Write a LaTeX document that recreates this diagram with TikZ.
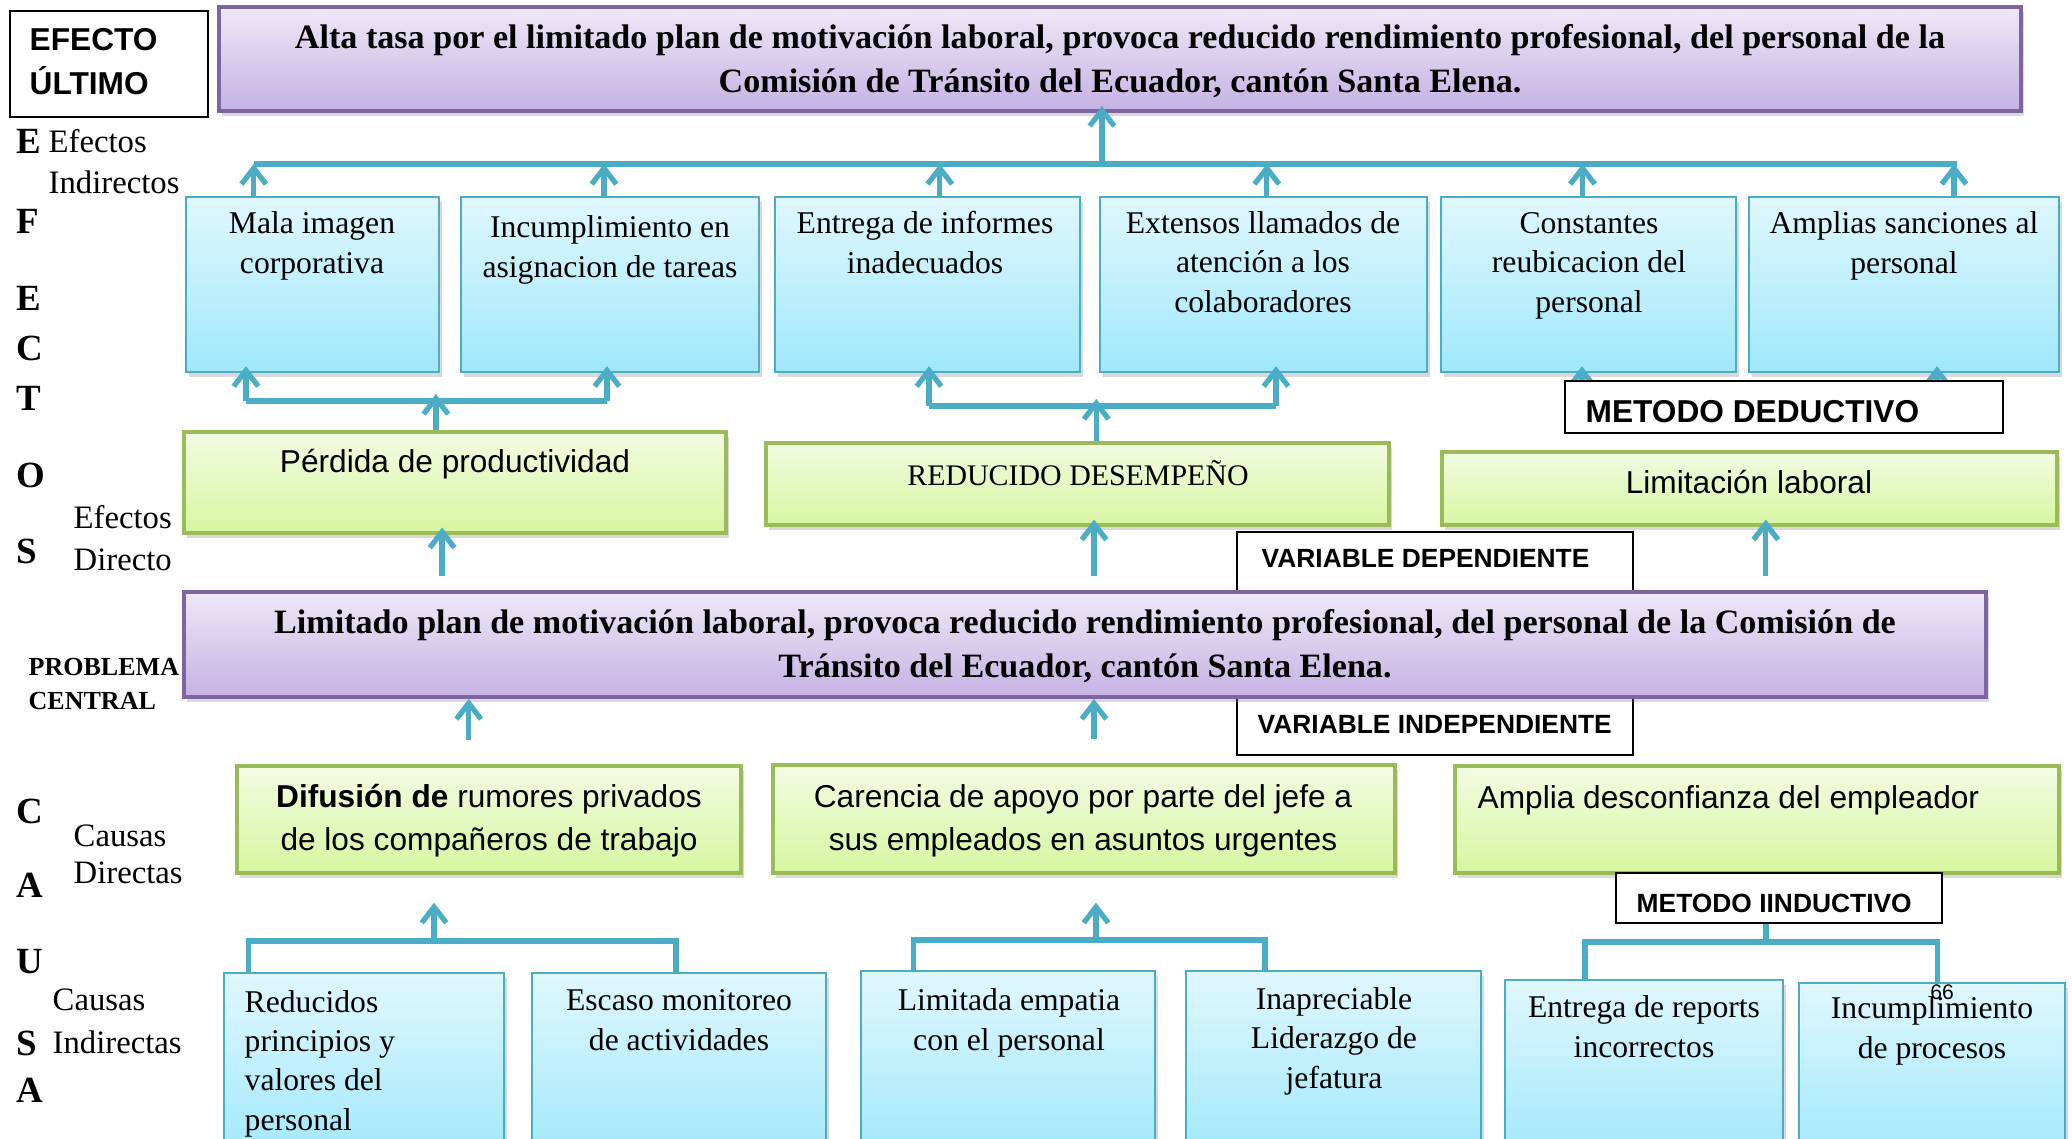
\documentclass[tikz,border=0pt]{standalone}
\usepackage{fontspec}
\setmainfont{Liberation Serif}
\setsansfont{Liberation Sans}
\usepackage{tikz}
\usetikzlibrary{arrows.meta,calc,fit,shadows}
\definecolor{azul}{RGB}{75,172,198}
\definecolor{celesteA}{RGB}{224,247,254}
\definecolor{celesteB}{RGB}{160,232,251}
\definecolor{verdeA}{RGB}{243,251,227}
\definecolor{verdeB}{RGB}{214,246,160}
\definecolor{verdeL}{RGB}{155,187,89}
\definecolor{lilaA}{RGB}{238,232,247}
\definecolor{lilaB}{RGB}{197,178,227}
\definecolor{lilaL}{RGB}{128,100,162}
\tikzset{
  sombra/.style={drop shadow={shadow xshift=.8pt,shadow yshift=-1.3pt,opacity=.3}},
  celeste/.style={draw=azul,line width=.7pt,top color=celesteA,bottom color=celesteB,sombra,inner sep=0pt},
  verde/.style={draw=verdeL,line width=.9pt,top color=verdeA,bottom color=verdeB,sombra,inner sep=0pt},
  lila/.style={draw=lilaL,line width=1.1pt,top color=lilaA,bottom color=lilaB,sombra,inner sep=0pt},
  marco/.style={draw=black,line width=.8pt,fill=white,inner sep=0pt},
  linea/.style={draw=azul,line width=1.5pt},
  flechita/.style={linea,-{Straight Barb[length=4.5pt,width=7pt]},shorten >=-2pt},
  txt/.style={font=\fontsize{9}{11.1}\selectfont,align=center,inner sep=0pt},
  sans/.style={font=\sffamily\fontsize{9}{12}\selectfont,align=center,inner sep=0pt},
  negrita/.style={font=\bfseries\fontsize{9.7}{12.5}\selectfont,align=center,inner sep=0pt},
  rotulo/.style={font=\sffamily\bfseries\fontsize{7.5}{9}\selectfont,inner sep=0pt},
  letra/.style={font=\bfseries\fontsize{10.5}{12}\selectfont,inner sep=0pt},
  lado/.style={font=\fontsize{9.3}{11.4}\selectfont,align=left,inner sep=0pt},
}

\begin{document}
\begin{tikzpicture}[x=0.01cm,y=-0.01cm]
\useasboundingbox (0,0) rectangle (2072,1139);

\node[marco,fit={(10,11) (208,117)}] (ult) {};
\node[font=\sffamily\bfseries\fontsize{9}{12.4}\selectfont,align=left,inner sep=0pt,anchor=base west] (ultt) at (29,94) {EFECTO\\ÚLTIMO};
\node[lila,fit={(219,7) (2021,111)}] (alta) {};
\node[negrita,anchor=base] (altat) at (1120,92) {Alta tasa por el limitado plan de motivación laboral, provoca reducido rendimiento profesional, del personal de la\\Comisión de Tránsito del Ecuador, cantón Santa Elena.};

\foreach \l/\y [count=\i] in {E/153,F/233,E/310,C/360,T/410,O/487,S/563,C/823,A/897,U/973,S/1055,A/1102}
  \node[letra,anchor=base west] (le\i) at (16,\y) {\l};
\node[lado,anchor=base west] (efi) at (48,193) {Efectos\\Indirectos};
\node[lado,anchor=base west,font=\fontsize{9.3}{11.9}\selectfont] (efd) at (73,570) {Efectos\\Directo};
\node[font=\bfseries\fontsize{7.4}{9.4}\selectfont,align=left,inner sep=0pt,anchor=base west] (pcen) at (28,709) {PROBLEMA\\CENTRAL};
\node[lado,anchor=base west,font=\fontsize{9.3}{10.3}\selectfont] (cad) at (73,883) {Causas\\Directas};
\node[lado,anchor=base west,font=\fontsize{9.3}{12}\selectfont] (cai) at (52,1053) {Causas\\Indirectas};

% efectos indirectos
\foreach \n/\a/\b in {e1/186/439,e2/461/759,e3/775/1080,e4/1100/1427,e5/1441/1736,e6/1749/2059}
  \node[celeste,fit={(\a,197) (\b,372)}] (\n) {};
\node[txt,anchor=base] (e1t) at (312,273) {Mala imagen\\corporativa};
\node[txt,anchor=base] (e2t) at (610,277) {Incumplimiento en\\asignacion de tareas};
\node[txt,anchor=base] (e3t) at (925,273) {Entrega de informes\\inadecuados};
\node[txt,anchor=base] (e4t) at (1263,312) {Extensos llamados de\\atención a los\\colaboradores};
\node[txt,anchor=base] (e5t) at (1589,312) {Constantes\\reubicacion del\\personal};
\node[txt,anchor=base] (e6t) at (1904,273) {Amplias sanciones al\\personal};

\coordinate (b1) at (254,164);
\coordinate (b2) at (1957,164);
\draw[linea] (b1) -- (b2);
\foreach \n/\f in {e1/.27,e2/.48,e3/.54,e4/.51,e5/.48,e6/.66}{
  \path ($(\n.north west)!\f!(\n.north east)$) coordinate (p\n);
  \draw[flechita,shorten >=0pt] (p\n) -- (p\n |- b1);
}
\path ($(alta.south west)!.49!(alta.south east)$) coordinate (pa);
\draw[flechita] (pa |- b1) -- (pa);

% efectos directos
\node[verde,fit={(184,432) (726,533)}] (g1) {};
\node[verde,fit={(766,443) (1389,525)}] (g2) {};
\node[verde,fit={(1442,452) (2057,525)}] (g3) {};
\node[sans,anchor=base] (g1t) at (455,472) {Pérdida de productividad};
\node[txt,anchor=base,font=\fontsize{8.5}{10}\selectfont] (g2t) at (1078,485) {REDUCIDO DESEMPEÑO};
\node[sans,anchor=base] (g3t) at (1749,493) {Limitación laboral};

\coordinate (c1) at (246,401);
\coordinate (c2) at (607,401);
\draw[linea] (c1) -- (c2);
\draw[flechita] (c1) -- (c1 |- e1.south);
\draw[flechita] (c2) -- (c2 |- e2.south);
\path ($(g1.north west)!.465!(g1.north east)$) coordinate (pg1);
\draw[flechita] (pg1) -- (pg1 |- c1);

\coordinate (c3) at (929,406);
\coordinate (c4) at (1276,406);
\draw[linea] (c3) -- (c4);
\draw[flechita] (c3) -- (c3 |- e3.south);
\draw[flechita] (c4) -- (c4 |- e4.south);
\path ($(g2.north west)!.53!(g2.north east)$) coordinate (pg2);
\draw[flechita] (pg2) -- (pg2 |- c3);

\coordinate (d1) at (1582,395);
\coordinate (d2) at (1937,395);
\draw[flechita] (d1) -- (d1 |- e5.south);
\draw[flechita] (d2) -- (d2 |- e6.south);
\node[marco,fit={(1565,381) (2003,433)}] (md) {};
\node[rotulo,anchor=base west,font=\sffamily\bfseries\fontsize{9}{11}\selectfont] (mdt) at (1585,422) {METODO DEDUCTIVO};

% problema central
\node[marco,fit={(1237,532) (1633,600)}] (vd) {};
\node[rotulo,anchor=base west] (vdt) at (1261,567) {VARIABLE DEPENDIENTE};
\node[marco,fit={(1237,690) (1633,755)}] (vi) {};
\node[rotulo,anchor=base west] (vit) at (1257,733) {VARIABLE INDEPENDIENTE};
\node[lila,fit={(184,592) (1986,697)}] (prob) {};
\node[negrita,anchor=base] (probt) at (1085,677) {Limitado plan de motivación laboral, provoca reducido rendimiento profesional, del personal de la Comisión de\\Tránsito del Ecuador, cantón Santa Elena.};

\foreach \f/\g in {.144/g1,.505/g2,.877/g3}{
  \path ($(prob.north west)!\f!(prob.north east)$) coordinate (pp\g);
  \draw[flechita,shorten <=4pt] (pp\g) -- (pp\g |- \g.south);
}

% causas directas
\node[verde,fit={(237,766) (741,873)}] (cg1) {};
\node[verde,fit={(773,765) (1395,873)}] (cg2) {};
\node[verde,fit={(1455,766) (2059,873)}] (cg3) {};
\node[sans,anchor=base] (cg1t) at (489,850) {\textbf{Difusión de} rumores privados\\de los compañeros de trabajo};
\node[sans,anchor=base] (cg2t) at (1083,850) {Carencia de apoyo por parte del jefe a\\sus empleados en asuntos urgentes};
\node[sans,anchor=base west] (cg3t) at (1477,808) {Amplia desconfianza del empleador};
\node[marco,fit={(1616,873) (1942,923)}] (mi) {};
\node[rotulo,anchor=base west] (mit) at (1636,912) {METODO IINDUCTIVO};

\path ($(cg1.north west)!.46!(cg1.north east)$) coordinate (pc1);
\path ($(cg2.north west)!.516!(cg2.north east)$) coordinate (pc2);
\draw[flechita,shorten <=7pt,shorten >=0pt] (pc1) -- (pc1 |- prob.south);
\draw[flechita,shorten <=7pt,shorten >=0pt] (pc2) -- (pc2 |- prob.south);

% causas indirectas
\foreach \n/\a/\b/\t in {ci1/224/504/973,ci2/532/826/973,ci3/861/1155/971,ci4/1186/1481/971,ci5/1505/1783/980,ci6/1799/2065/983}
  \node[celeste,fit={(\a,\t) (\b,1160)}] (\n) {};
\node[txt,align=left,anchor=base west] (ci1t) at (244,1130) {Reducidos\\principios y\\valores del\\personal};
\node[txt,anchor=base] (ci2t) at (679,1050) {Escaso monitoreo\\de actividades};
\node[txt,anchor=base] (ci3t) at (1009,1050) {Limitada empatia\\con el personal};
\node[txt,anchor=base] (ci4t) at (1334,1088) {Inapreciable\\Liderazgo de\\jefatura};
\node[txt,anchor=base] (ci5t) at (1644,1057) {Entrega de reports\\incorrectos};
\node[txt,anchor=base] (ci6t) at (1932,1058) {Incumplimiento\\de procesos};
\node[font=\sffamily\fontsize{6}{7}\selectfont,inner sep=0pt] (pag) at (1942,992) {66};

\coordinate (q1) at (434,941);
\path ($(ci1.north west)!.09!(ci1.north east)$) coordinate (h1);
\path ($(ci2.north west)!.49!(ci2.north east)$) coordinate (h2);
\draw[linea] (h1) |- (q1) -| (h2);
\draw[flechita,shorten >=8pt] (q1) -- (q1 |- cg1.south);

\coordinate (q2) at (1096,940);
\path ($(ci3.north west)!.18!(ci3.north east)$) coordinate (h3);
\path ($(ci4.north west)!.27!(ci4.north east)$) coordinate (h4);
\draw[linea] (h3) |- (q2) -| (h4);
\draw[flechita,shorten >=8pt] (q2) -- (q2 |- cg2.south);

\coordinate (q3) at (1766,942);
\path ($(ci5.north west)!.29!(ci5.north east)$) coordinate (h5);
\path ($(ci6.north west)!.52!(ci6.north east)$) coordinate (h6);
\draw[linea] (h5) |- (q3) -| (h6);
\draw[linea] (q3) -- (q3 |- mi.south);
\end{tikzpicture}
\end{document}
